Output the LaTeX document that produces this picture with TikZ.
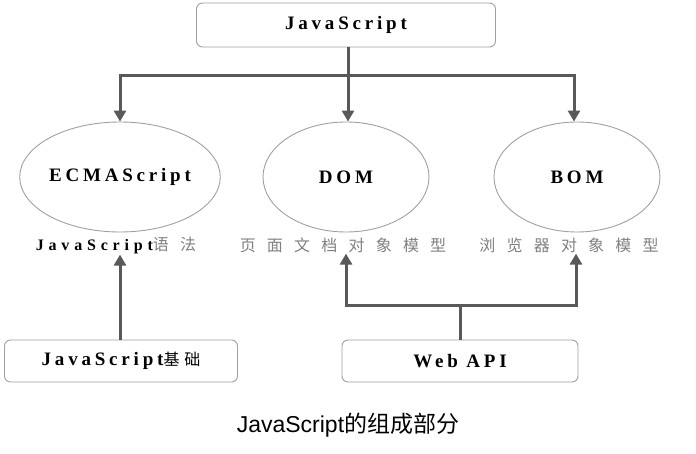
\documentclass[tikz,border=0pt]{standalone}
\usepackage{fontspec}
\setmainfont{Liberation Serif}
\newfontfamily\spcfont[LetterSpace=20]{Liberation Serif}
\newfontfamily\lblfont[LetterSpace=30]{Liberation Serif}
\newfontfamily\cjkfont[LetterSpace=70]{Noto Sans CJK SC}
\newfontfamily\cjkboxfont[LetterSpace=30]{Noto Sans CJK SC}
\newfontfamily\capfont{Liberation Sans}
\newfontfamily\capcjk{Noto Sans CJK SC}
\usetikzlibrary{shapes.geometric,arrows.meta}

\definecolor{arrgray}{HTML}{595959}
\definecolor{linegray}{HTML}{A0A0A0}
\definecolor{txtgray}{HTML}{808080}

\tikzset{
  partbox/.style={draw=linegray, line width=0.9pt, rounded corners=6pt, inner sep=0pt, font=\spcfont\bfseries\fontsize{19}{21}\selectfont},
  partell/.style={ellipse, draw=linegray, line width=0.9pt, inner sep=0pt, minimum width=166, minimum height=110, font=\spcfont\bfseries\fontsize{19}{21}\selectfont},
  partlbl/.style={inner sep=1pt, font=\fontsize{16}{18}\selectfont},
  arr/.style={draw=arrgray, line width=3pt, -{Triangle[width=12pt,length=11pt]}},
  bus/.style={draw=arrgray, line width=3pt}
}

\begin{document}
\begin{tikzpicture}[x=1pt,y=-1pt]
	\useasboundingbox (0,0) rectangle (696,454);

	%Shape: Boxes
	\node [partbox, minimum width=299, minimum height=44] (js) at (346,25) {JavaScript};
	\node [partbox, minimum width=233, minimum height=42] (base) at (121,361) {JavaScript{\cjkboxfont\mdseries\fontsize{16}{18}\selectfont 基础}};
	\node [partbox, minimum width=236, minimum height=42] (api) at (460,361) {Web API};

	%Shape: Ellipses
	\node [partell] (ecma) at (120,177) {ECMAScript};
	\node [partell] (dom) at (346,177) {DOM};
	\node [partell] (bom) at (577,177) {BOM};

	% Text Node
	\node [partlbl] (ecmalbl) at (116,245) {{\lblfont\bfseries\fontsize{16}{18}\selectfont JavaScript}\textcolor{txtgray}{\cjkfont 语法}};
	% Text Node
	\node [partlbl, text=txtgray] (domlbl) at (343,245) {\cjkfont 页面文档对象模型};
	% Text Node
	\node [partlbl, text=txtgray] (bomlbl) at (569,245) {\cjkfont 浏览器对象模型};
	% Text Node
	\node [inner sep=0pt, font=\fontsize{23}{26}\selectfont] (cap) at (348,425) {\capfont JavaScript\capcjk 的组成部分};

	%Straight Lines
	\coordinate (top) at (348,76);
	\coordinate (hub) at (460,306);
	\draw [bus] (js.south -| top) -- (top);
	\draw [arr] (top) -| (ecma.north);
	\draw [arr] (top) -| ([xshift=-3pt]bom.north);
	\draw [arr] (top) -- (top |- dom.north);

	\draw [arr] (base.north -| ecma.south) -- (ecma.south |- ecmalbl.south);
	\draw [bus] (api.north) -- (hub);
	\draw [arr] (hub) -| (dom.south |- domlbl.south);
	\draw [arr] (hub) -| ([xshift=-1pt]bom.south |- bomlbl.south);

\end{tikzpicture}
\end{document}
